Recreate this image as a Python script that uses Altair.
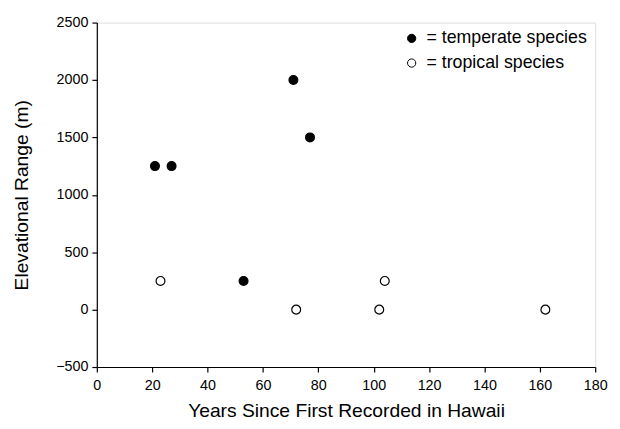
import altair as alt
import pandas as pd

temperate_years = [21, 27, 71, 77, 53]
temperate_range = [1250, 1250, 2000, 1500, 250]
tropical_years = [23, 72, 102, 104, 162]
tropical_range = [250, 0, 0, 250, 0]

df = pd.DataFrame({
    "years": temperate_years + tropical_years,
    "range": temperate_range + tropical_range,
    "group": ["temperate species"] * len(temperate_years) + ["tropical species"] * len(tropical_years),
})

font = "Liberation Sans"

axis_common = dict(grid=False, tickSize=5, tickWidth=1.2, domainWidth=1.2, domainColor="black",
                   tickColor="black", labelColor="black", titleColor="black", labelFontSize=14.5,
                   titleFontSize=19.5, titleFontWeight="normal", labelFont=font, titleFont=font,
                   labelFlush=False, format="d")

chart = alt.Chart(df).mark_point(size=80, strokeWidth=1.2, opacity=1, filled=False).encode(
    x=alt.X("years:Q", scale=alt.Scale(domain=[0, 180], nice=False),
            axis=alt.Axis(title="Years Since First Recorded in Hawaii", values=list(range(0, 181, 20)),
                          labelPadding=7, titlePadding=10, **axis_common)),
    y=alt.Y("range:Q", scale=alt.Scale(domain=[-500, 2500], nice=False),
            axis=alt.Axis(title="Elevational Range (m)", values=list(range(-500, 2501, 500)),
                          labelPadding=4, titlePadding=25, **axis_common)),
    fill=alt.Fill("group:N", scale=alt.Scale(domain=["temperate species", "tropical species"],
                                             range=["black", "white"]),
                  legend=alt.Legend(title=None, orient="none", legendX=310, legendY=7,
                                    labelExpr="'= ' + datum.label", labelFontSize=18,
                                    labelFont=font, labelColor="black", symbolSize=70,
                                    symbolStrokeColor="black", symbolStrokeWidth=1,
                                    rowPadding=7, labelOffset=6, labelLimit=400)),
    stroke=alt.value("black"),
).properties(
    width=505, height=349,
    autosize=alt.AutoSizeParams(type="none"),
    padding={"left": 90, "top": 12, "right": 17, "bottom": 60},
).configure_view(stroke="black", strokeWidth=1.2).configure(background="white")

chart.save("out.html", embed_options={"renderer": "svg", "actions": False})
